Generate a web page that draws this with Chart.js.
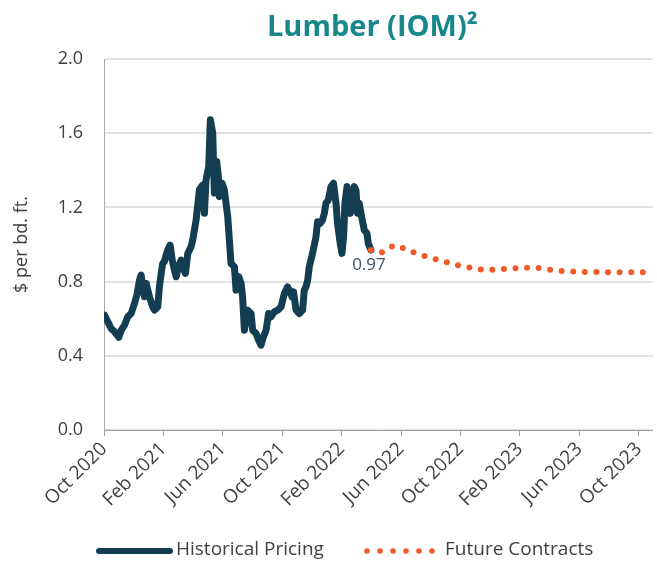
<!DOCTYPE html>
<html>
<head>
<meta charset="utf-8">
<script src="https://cdn.jsdelivr.net/npm/chart.js@4/dist/chart.umd.min.js"></script>
<style>
  html, body { margin: 0; padding: 0; background: #ffffff; }
  #wrap { width: 657px; height: 561px; }
</style>
</head>
<body>
<div id="wrap"><canvas id="c" width="657" height="561"></canvas></div>
<script>
// ---- data ----
const chartTitle = 'Lumber (IOM)\u00B2';
const yAxisTitle = '$ per bd. ft.';
const seriesNames = ['Historical Pricing', 'Future Contracts'];
// x values are months after Oct 2020
const tickLabels = ['Oct 2020','Feb 2021','Jun 2021','Oct 2021','Feb 2022','Jun 2022','Oct 2022','Feb 2023','Jun 2023','Oct 2023'];
const yTicks = [0.0, 0.4, 0.8, 1.2, 1.6, 2.0];

const histMonths = [0.03,0.26,0.48,0.71,1.00,1.16,1.38,1.60,1.83,2.05,2.21,2.39,2.50,2.61,2.72,2.84,3.06,3.28,3.40,3.62,3.73,3.85,3.95,4.06,4.18,4.29,4.45,4.59,4.74,4.86,5.01,5.19,5.35,5.48,5.64,5.86,5.97,6.20,6.42,6.64,6.76,6.87,7.05,7.16,7.32,7.43,7.59,7.70,7.77,7.95,8.10,8.33,8.55,8.78,8.89,9.07,9.23,9.33,9.45,9.67,9.90,10.01,10.24,10.41,10.57,10.73,10.91,11.08,11.24,11.46,11.69,11.92,12.14,12.36,12.52,12.66,12.76,12.93,13.15,13.37,13.48,13.60,13.71,13.82,14.04,14.27,14.38,14.56,14.71,14.83,14.94,15.10,15.28,15.45,15.62,15.72,15.90,16.02,16.13,16.22,16.36,16.44,16.58,16.73,16.85,16.96,17.07,17.18,17.34,17.52,17.70,17.79,17.97];
const histValues = [0.619,0.583,0.547,0.529,0.50,0.538,0.565,0.61,0.628,0.682,0.727,0.808,0.835,0.772,0.718,0.79,0.718,0.664,0.646,0.664,0.772,0.844,0.898,0.907,0.943,0.97,0.997,0.916,0.862,0.826,0.88,0.916,0.87,0.844,0.952,0.988,1.024,1.132,1.295,1.32,1.168,1.349,1.42,1.673,1.6,1.277,1.447,1.366,1.258,1.33,1.294,1.15,0.898,0.88,0.754,0.826,0.79,0.718,0.538,0.646,0.628,0.538,0.52,0.484,0.457,0.502,0.538,0.628,0.61,0.637,0.646,0.664,0.736,0.772,0.745,0.718,0.745,0.646,0.628,0.646,0.754,0.772,0.808,0.88,0.952,1.042,1.123,1.114,1.132,1.168,1.222,1.24,1.312,1.33,1.222,1.114,1.006,0.952,1.042,1.222,1.312,1.222,1.168,1.258,1.312,1.294,1.168,1.222,1.15,1.078,1.06,1.006,0.97];

const futMonths = [17.97,18.66,19.11,19.69,20.41,21.15,22.68,24.18,25.72,27.36,28.97,30.59,32.20,34.67,36.28];
const futValues = [0.97,0.955,0.982,0.996,0.971,0.948,0.912,0.881,0.861,0.870,0.877,0.858,0.852,0.850,0.850];

// ---- styles ----
const NAVY = '#133d50';
const ORANGE = '#f15a29';
const TEAL = '#17878c';
const TEXT = '#404040';
const FONT = "'Open Sans', 'DejaVu Sans', sans-serif";

const histData = histMonths.map((m, i) => ({x: m, y: histValues[i]}));
const futData = futMonths.map((m, i) => ({x: m, y: futValues[i]}));

const decorPlugin = {
  id: 'decor',
  afterDatasetsDraw(chart) {
    const ctx = chart.ctx;
    const meta = chart.getDatasetMeta(0);
    const last = meta.data[meta.data.length - 1];
    ctx.save();
    ctx.font = '17px ' + FONT;
    ctx.fillStyle = '#3b5566';
    ctx.textAlign = 'center';
    ctx.textBaseline = 'middle';
    ctx.fillText(histValues[histValues.length - 1].toFixed(2), last.x - 2, last.y + 15);
    ctx.restore();
  },
  afterDraw(chart) {
    const ctx = chart.ctx;
    const area = chart.chartArea;
    ctx.save();
    // title
    ctx.font = 'bold 29px ' + FONT;
    ctx.fillStyle = TEAL;
    ctx.textAlign = 'center';
    ctx.textBaseline = 'alphabetic';
    ctx.fillText(chartTitle, (area.left + area.right) / 2 - 6, 36);

    // legend
    const ly = 551;
    ctx.font = '19px ' + FONT;
    ctx.fillStyle = TEXT;
    ctx.textBaseline = 'middle';
    ctx.textAlign = 'left';
    let x = 99;
    ctx.strokeStyle = NAVY;
    ctx.lineWidth = 6;
    ctx.lineCap = 'round';
    ctx.beginPath();
    ctx.moveTo(x, ly);
    ctx.lineTo(x + 71, ly);
    ctx.stroke();
    ctx.fillText(seriesNames[0], x + 77, ly - 1);
    x = 367;
    ctx.fillStyle = ORANGE;
    for (let i = 0; i < 6; i++) {
      ctx.beginPath();
      ctx.arc(x + i * 13, ly, 2.8, 0, Math.PI * 2);
      ctx.fill();
    }
    ctx.fillStyle = TEXT;
    ctx.fillText(seriesNames[1], x + 78, ly - 1);
    ctx.restore();
  }
};

new Chart(document.getElementById('c'), {
  type: 'line',
  data: {
    datasets: [
      {
        label: seriesNames[0],
        data: histData,
        order: 1,
        borderColor: NAVY,
        backgroundColor: NAVY,
        borderWidth: 7,
        borderJoinStyle: 'round',
        borderCapStyle: 'round',
        pointRadius: 0,
        tension: 0
      },
      {
        label: seriesNames[1],
        data: futData,
        order: 0,
        borderColor: ORANGE,
        backgroundColor: ORANGE,
        borderWidth: 6,
        borderDash: [0, 11.6],
        borderCapStyle: 'round',
        borderJoinStyle: 'round',
        pointRadius: 0,
        tension: 0
      }
    ]
  },
  options: {
    responsive: false,
    animation: false,
    devicePixelRatio: 1,
    layout: { padding: { top: 59, right: 4, bottom: 31, left: 0 } },
    plugins: {
      legend: { display: false },
      title: { display: false },
      tooltip: { enabled: false }
    },
    scales: {
      x: {
        type: 'linear',
        min: 0,
        max: 36.94,
        afterFit(scale) { scale.height = 100; },
        border: { display: true, color: '#a0a0a0', width: 1 },
        grid: { drawOnChartArea: false, drawTicks: true, tickLength: 6, color: '#a0a0a0', lineWidth: 1 },
        ticks: {
          stepSize: 4,
          includeBounds: false,
          autoSkip: false,
          maxRotation: 45,
          minRotation: 45,
          padding: 2,
          color: TEXT,
          font: { family: FONT, size: 19 },
          callback: (v) => tickLabels[Math.round(v / 4)] ?? ''
        }
      },
      y: {
        min: 0,
        max: 2.0,
        afterFit(scale) { scale.width = 104; },
        afterBuildTicks(scale) { scale.ticks = yTicks.map(v => ({value: v})); },
        border: { display: true, color: '#a8a8a8', width: 1 },
        grid: { color: '#dde3e3', lineWidth: 2, drawTicks: false },
        ticks: {
          padding: 21,
          color: TEXT,
          font: { family: FONT, size: 18 },
          callback: (v) => v.toFixed(1)
        },
        title: {
          display: true,
          text: yAxisTitle,
          color: TEXT,
          font: { family: FONT, size: 18 },
          padding: { top: 11, bottom: 0 }
        }
      }
    }
  },
  plugins: [decorPlugin]
});
</script>
</body>
</html>
